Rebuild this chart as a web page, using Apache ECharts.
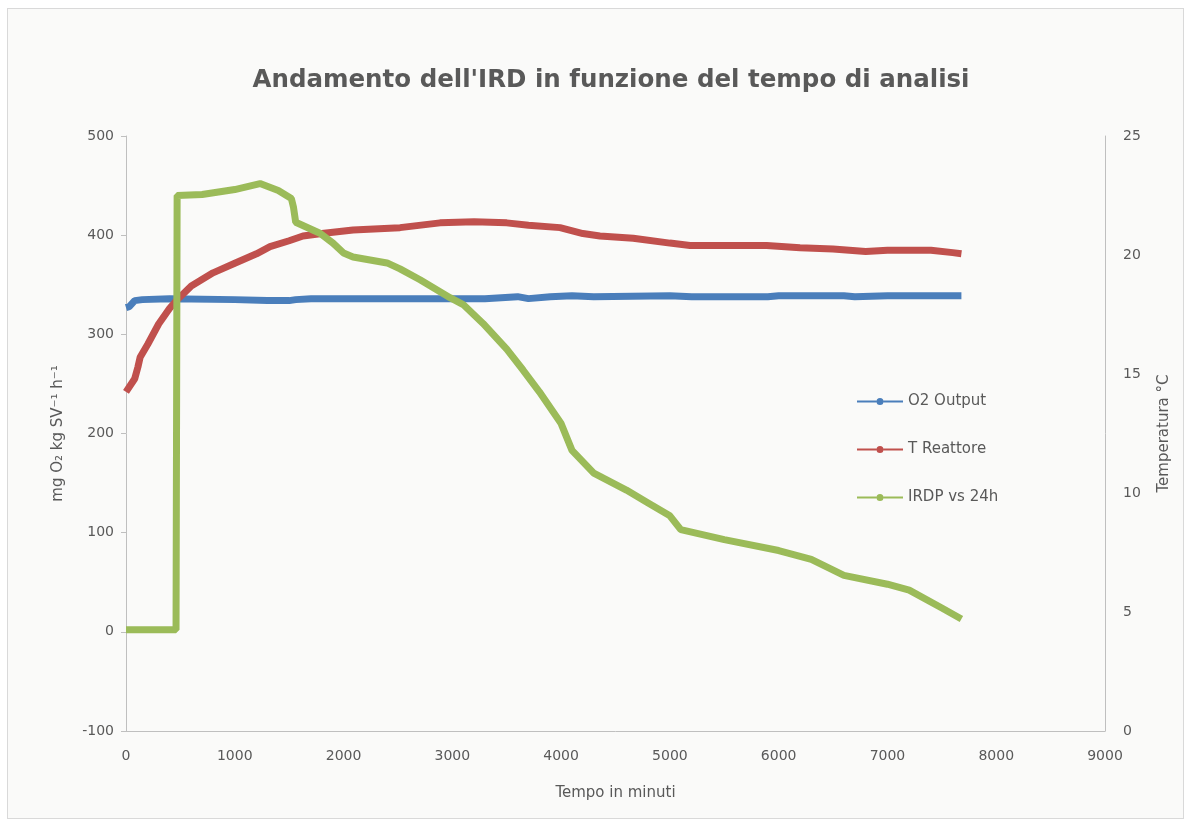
<!DOCTYPE html>
<html>
<head>
<meta charset="utf-8">
<script src="https://cdn.jsdelivr.net/npm/echarts@6/dist/echarts.min.js"></script>
<style>
  html, body { margin: 0; padding: 0; background: #ffffff; }
  #box { position: absolute; left: 7px; top: 8px; width: 1177px; height: 811px;
         border: 1px solid #d9d9d9; background: #fafaf9; box-sizing: border-box; }
  #main { position: absolute; left: 0; top: 0; width: 1184px; height: 819px; }
</style>
</head>
<body>
<div id="box"></div>
<div id="main"></div>
<script>
// tempo (minuti) e valori
var tO2 = [0, 30, 80, 150, 400, 1000, 1300, 1500, 1560, 1700, 2500, 3000, 3300, 3600, 3700, 3900, 4100, 4300, 5000, 5200, 5900, 6000, 6600, 6700, 7000, 7680];
var o2Output = [327, 328, 334, 335, 336, 335, 334, 334, 335, 336, 336, 336, 336, 338, 336, 338, 339, 338, 339, 338, 338, 339, 339, 338, 339, 339];

var tReatt = [0, 80, 110, 130, 200, 300, 400, 466, 600, 800, 1000, 1200, 1324, 1500, 1627, 1800, 2087, 2519, 2887, 3200, 3500, 3700, 3990, 4200, 4357, 4663, 5000, 5185, 5890, 6196, 6500, 6800, 7000, 7400, 7600, 7680];
var tReattore = [14.25, 14.8, 15.3, 15.7, 16.25, 17.1, 17.75, 18.1, 18.7, 19.25, 19.65, 20.05, 20.35, 20.6, 20.8, 20.9, 21.05, 21.15, 21.35, 21.4, 21.35, 21.25, 21.15, 20.9, 20.8, 20.7, 20.5, 20.4, 20.4, 20.3, 20.25, 20.15, 20.2, 20.2, 20.1, 20.05];

var tIrdp = [0, 460, 470, 700, 1000, 1232, 1400, 1520, 1540, 1560, 1783, 1903, 2000, 2087, 2400, 2519, 2703, 2979, 3100, 3282, 3500, 3650, 3800, 4000, 4100, 4300, 4600, 4800, 5000, 5100, 5500, 6000, 6300, 6600, 7000, 7200, 7500, 7680];
var irdp24h = [2, 2, 440, 441, 446, 452, 445, 437, 428, 413, 402, 392, 382, 378, 372, 366, 355, 337, 330, 311, 285, 264, 242, 210, 183, 160, 143, 130, 117, 103, 93, 82, 73, 57, 48, 42, 24, 13];

var leftTicks = [-100, 0, 100, 200, 300, 400, 500];
var rightTicks = [0, 5, 10, 15, 20, 25];
var xTicks = [0, 1000, 2000, 3000, 4000, 5000, 6000, 7000, 8000, 9000];

function pairs(xs, ys) {
    return xs.map(function (x, i) { return [x, ys[i]]; });
}

var font = 'DejaVu Sans';
var grey = '#595959';
// linea con puntino, come nella legenda di Excel
var legendIcon = 'path://M0,2.5 L19.5,2.5 L19.5,4.5 L0,4.5 Z M26.5,2.5 L46,2.5 L46,4.5 L26.5,4.5 Z M19.5,3.5 A3.5,3.5 0 1 1 26.5,3.5 A3.5,3.5 0 1 1 19.5,3.5 Z';

var option = {
    animation: false,
    textStyle: { fontFamily: font },
    title: {
        text: "Andamento dell'IRD in funzione del tempo di analisi",
        left: 606,
        top: 63,
        textAlign: 'center',
        textStyle: { fontFamily: font, fontSize: 24.5, fontWeight: 'bold', color: grey }
    },
    legend: {
        orient: 'vertical',
        left: 857,
        top: 394,
        padding: 0,
        icon: legendIcon,
        itemWidth: 46,
        itemHeight: 7,
        itemGap: 33,
        textStyle: { fontFamily: font, fontSize: 15, color: grey },
        data: ['O2 Output', 'T Reattore', 'IRDP vs 24h']
    },
    grid: { left: 126, right: 79, top: 136, bottom: 88 },
    xAxis: {
        type: 'value',
        min: xTicks[0],
        max: xTicks[xTicks.length - 1],
        interval: 1000,
        name: 'Tempo in minuti',
        nameLocation: 'middle',
        nameGap: 55,
        nameTextStyle: { fontSize: 15, color: grey },
        axisLine: { onZero: false, lineStyle: { color: '#bfbfbf', width: 1 } },
        axisTick: { show: false },
        axisLabel: { color: grey, fontSize: 14, margin: 18, formatter: function (v) { return String(v); } },
        splitLine: { show: false }
    },
    yAxis: [
        {
            type: 'value',
            min: leftTicks[0],
            max: leftTicks[leftTicks.length - 1],
            interval: 100,
            name: 'mg O\u2082 kg SV\u207B\u00B9 h\u207B\u00B9',
            nameLocation: 'middle',
            nameGap: 60,
            nameTextStyle: { fontSize: 15, color: grey },
            axisLine: { show: true, lineStyle: { color: '#bfbfbf', width: 1 } },
            axisTick: { show: true, length: 5, lineStyle: { color: '#bfbfbf' } },
            axisLabel: { color: grey, fontSize: 14, margin: 12 },
            splitLine: { show: false }
        },
        {
            type: 'value',
            min: rightTicks[0],
            max: rightTicks[rightTicks.length - 1],
            interval: 5,
            name: 'Temperatura \u00B0C',
            nameLocation: 'middle',
            nameGap: 52,
            nameTextStyle: { fontSize: 15, color: grey },
            axisLine: { show: true, lineStyle: { color: '#bfbfbf', width: 1 } },
            axisTick: { show: false },
            axisLabel: { color: grey, fontSize: 14, margin: 18 },
            splitLine: { show: false }
        }
    ],
    series: [
        {
            name: 'O2 Output',
            type: 'line',
            yAxisIndex: 0,
            data: pairs(tO2, o2Output),
            symbol: 'circle',
            showSymbol: false,
            color: '#4a7ebb',
            lineStyle: { width: 7, color: '#4a7ebb' }
        },
        {
            name: 'T Reattore',
            type: 'line',
            yAxisIndex: 1,
            data: pairs(tReatt, tReattore),
            symbol: 'circle',
            showSymbol: false,
            color: '#c0504d',
            lineStyle: { width: 7, color: '#c0504d' }
        },
        {
            name: 'IRDP vs 24h',
            type: 'line',
            yAxisIndex: 0,
            data: pairs(tIrdp, irdp24h),
            symbol: 'circle',
            showSymbol: false,
            color: '#9bbb59',
            lineStyle: { width: 7, color: '#9bbb59' }
        }
    ]
};

var myChart = echarts.init(document.getElementById('main'));
myChart.setOption(option);
</script>
</body>
</html>
